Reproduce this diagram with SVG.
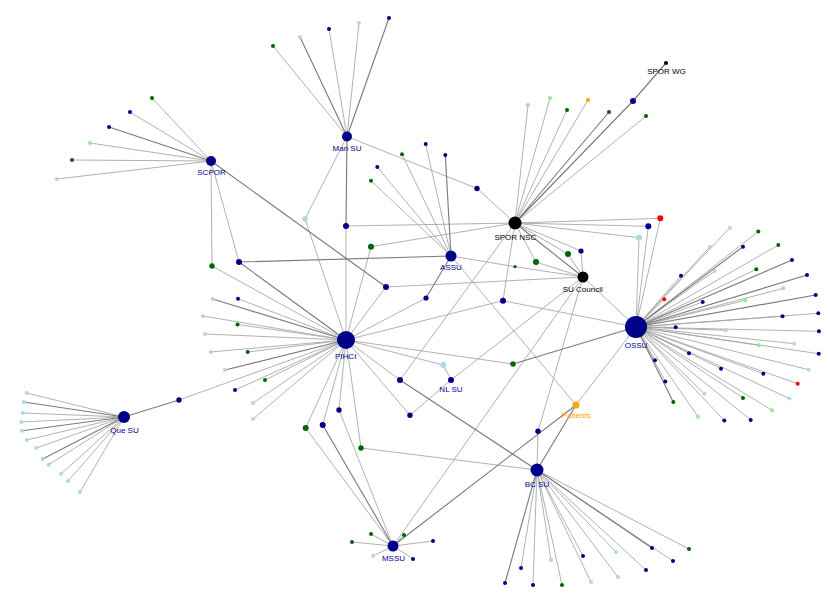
<svg xmlns="http://www.w3.org/2000/svg" width="828" height="594" viewBox="0 0 828 594">
<style>
.e{stroke:#a3a3a3;stroke-width:0.85;fill:none}
.t{stroke:#7c7c7c;stroke-width:1.15;fill:none}
.nb{fill:#00008b}.g{fill:#006400}.lb{fill:#add8e6}.lg{fill:#90ee90}.or{fill:#ffa500}.rd{fill:#ff0000}.bk{fill:#000}
text{font-family:"Liberation Sans",Arial,sans-serif;font-size:8px;text-anchor:middle}
.tn{fill:#00008b}.tk{fill:#000}.to{fill:#ffa500}
</style>
<rect width="828" height="594" fill="#fff"/>
<g id="connectors">
<g class="e">
<path d="M347 136.5L273 46M347 136.5L329 29M347 136.5L359 23M347 136.5L305 219L346 340M346 226L346 340M346 226L515 223M347 136.5L477 188.5L515 223"/>
<path d="M211 161L152 98M211 161L130 112M211 161L90 143M211 161L72 160M211 161L57 179M211 161L212 266L346 340M211 161L239 262M386 287L346 340M386 287L583 277"/>
<path d="M451 256L425.7 144M451 256L402 154.3M451 256L377.3 167M451 256L371 180.7M426 298L346 340M451 256L515 266.7L583 277M451 256L576 405"/>
<path d="M515 223L528 105M515 223L550 98M515 223L567 110M515 223L588 100M515 223L646 116M515 223L371 246.7L346 340M515 223L660.3 218.3L636 327M515 223L648.3 226.3L636 327M515 223L639 237.7L636 327M515 223L568 254L583 277M515 223L581 251L583 277M515 223L536 262L583 277M515 223L503 300.7L346 340M503 300.7L636 327M515 223L400 380L346 340"/>
<path d="M583 277L636 327M583 277L451 380M583 277L393 546M583 277L538 431.3L537 470"/>
<path d="M346 340L238 298.7M346 340L202.7 316M346 340L237.5 324.5M346 340L205 334M346 340L210.7 352M346 340L247.7 352M346 340L265 380M346 340L235 390M346 340L253 403M346 340L253 419M346 340L179 400M346 340L443.3 365L451 380M346 340L513 364M346 340L410 415.3L451 380M346 340L305.7 428L393 546M346 340L322.7 425M346 340L339 410L393 546M346 340L361 448L537 470"/>
<path d="M576 405L636 327"/>
<path d="M124 417L26.7 393M124 417L22.7 413M124 417L21.3 422M124 417L26.7 440M124 417L36.3 448M124 417L48.7 464.7M124 417L61 474M124 417L68 481M124 417L80 492"/>
<path d="M393 546L371 534M393 546L352 542M393 546L373 556M393 546L404 535M393 546L433 541M393 546L413 559"/>
<path d="M537 470L521 568M537 470L533 585M537 470L551 560M537 470L562 585M537 470L583 556M537 470L591 582M537 470L616 552M537 470L618 577M537 470L646 570M537 470L673 561M537 470L689 549"/>
<path d="M636 327L730 227.7M636 327L710 246.7M636 327L758.3 231.5M636 327L778.3 245M636 327L681 275.7M636 327L714.5 271M636 327L756.3 269.3M636 327L664.3 299.3M636 327L783.3 288.3M636 327L745.3 300.3M636 327L702.7 302M636 327L782.5 316.3M636 327L818.3 313.3M636 327L675.7 327.3M636 327L725.7 330.3M636 327L819 331.3M636 327L758.7 345.3M636 327L794.3 343.7M636 327L818.7 353.7M636 327L689 353.3M636 327L808.7 369.7M636 327L721 368.7M636 327L763.3 373.7M636 327L797.7 383.7M636 327L655 360.3M636 327L665.3 381.5M636 327L789.3 398.5M636 327L743 398M636 327L704.3 393.7M636 327L772 410.3M636 327L698 416.7M636 327L724.3 420.5M636 327L750.7 420"/>
</g>
<g class="t">
<path d="M347 136.5L300 37M347 136.5L389 18M347 136.5L346 226"/>
<path d="M211 161L109 127M211 161L386 287M239 262L451 256M239 262L346 340"/>
<path d="M451 256L445.3 155M451 256L426 298"/>
<path d="M515 223L609 112M515 223L633 101L666 63M515 223L583 277"/>
<path d="M124 417L179 400M400 380L537 470M513 364L636 327M576 405L393 546M576 405L537 470M322.7 425L393 546"/>
<path d="M124 417L23.7 402M124 417L22 430.7M124 417L42.7 459"/>
<path d="M537 470L505 583M537 470L652 548"/>
<path d="M636 327L673.3 402M636 327L807 275M636 327L815.7 295M636 327L792 260M636 327L743 246.7"/>
<path d="M346 340L225 370M346 340L212.7 299"/>
</g>
</g>
<g id="nodes">
<g id="m1"><circle class="g" cx="273" cy="46" r="2"/></g>
<g id="m2"><circle class="lb" cx="300" cy="37" r="2"/></g>
<g id="m3"><circle class="nb" cx="329" cy="29" r="2"/></g>
<g id="m4"><circle class="lb" cx="359" cy="23" r="2"/></g>
<g id="m5"><circle class="nb" cx="389" cy="18" r="2"/></g>
<g id="i1"><circle class="lb" cx="305" cy="219" r="2.8"/></g>
<g id="i2"><circle class="nb" cx="346" cy="226" r="3"/></g>
<g id="i3"><circle class="nb" cx="477" cy="188.5" r="2.7"/></g>
<g id="s1"><circle class="g" cx="152" cy="98" r="2"/></g>
<g id="s2"><circle class="nb" cx="130" cy="112" r="2"/></g>
<g id="s3"><circle class="nb" cx="109" cy="127" r="2"/></g>
<g id="s4"><circle class="lg" cx="90" cy="143" r="2"/></g>
<g id="s5"><circle class="g" cx="72" cy="160" r="2"/></g>
<g id="s6"><circle class="lb" cx="57" cy="179" r="2"/></g>
<g id="i4"><circle class="g" cx="212" cy="266" r="2.7"/></g>
<g id="i5"><circle class="nb" cx="239" cy="262" r="3"/></g>
<g id="i6"><circle class="nb" cx="386" cy="287" r="3"/></g>
<g id="a1"><circle class="nb" cx="425.7" cy="144" r="2"/></g>
<g id="a2"><circle class="nb" cx="445.3" cy="155" r="2"/></g>
<g id="a3"><circle class="g" cx="402" cy="154.3" r="2"/></g>
<g id="a4"><circle class="nb" cx="377.3" cy="167" r="2"/></g>
<g id="a5"><circle class="g" cx="371" cy="180.7" r="2"/></g>
<g id="i7"><circle class="nb" cx="426" cy="298" r="2.6"/></g>
<g id="i8"><circle class="g" cx="515" cy="266.7" r="1.6"/></g>
<g id="p1"><circle class="lg" cx="528" cy="105" r="2"/></g>
<g id="p2"><circle class="lg" cx="550" cy="98" r="2"/></g>
<g id="p3"><circle class="g" cx="567" cy="110" r="2"/></g>
<g id="p4"><circle class="or" cx="588" cy="100" r="2"/></g>
<g id="p5"><circle class="g" cx="609" cy="112" r="2"/></g>
<g id="p6"><circle class="g" cx="646" cy="116" r="2"/></g>
<g id="i9"><circle class="nb" cx="633" cy="101" r="3"/></g>
<g id="i10"><circle class="g" cx="371" cy="246.7" r="3"/></g>
<g id="i11"><circle class="rd" cx="660.3" cy="218.3" r="3"/></g>
<g id="i12"><circle class="nb" cx="648.3" cy="226.3" r="3"/></g>
<g id="i13"><circle class="lb" cx="639" cy="237.7" r="3"/></g>
<g id="i14"><circle class="g" cx="568" cy="254" r="3"/></g>
<g id="i15"><circle class="nb" cx="581" cy="251" r="2.6"/></g>
<g id="i16"><circle class="g" cx="536" cy="262" r="3"/></g>
<g id="i17"><circle class="nb" cx="503" cy="300.7" r="3"/></g>
<g id="i18"><circle class="nb" cx="400" cy="380" r="3"/></g>
<g id="i19"><circle class="nb" cx="538" cy="431.3" r="2.7"/></g>
<g id="h1"><circle class="lb" cx="212.7" cy="299" r="2"/></g>
<g id="h2"><circle class="nb" cx="238" cy="298.7" r="2"/></g>
<g id="h3"><circle class="lb" cx="202.7" cy="316" r="2"/></g>
<g id="h4"><circle class="g" cx="237.5" cy="324.5" r="2"/></g>
<g id="h5"><circle class="lb" cx="205" cy="334" r="2"/></g>
<g id="h6"><circle class="lb" cx="210.7" cy="352" r="2"/></g>
<g id="h7"><circle class="g" cx="247.7" cy="352" r="2"/></g>
<g id="h8"><circle class="lb" cx="225" cy="370" r="2"/></g>
<g id="h9"><circle class="g" cx="265" cy="380" r="2"/></g>
<g id="h10"><circle class="nb" cx="235" cy="390" r="2"/></g>
<g id="h11"><circle class="lb" cx="253" cy="403" r="2"/></g>
<g id="h12"><circle class="lb" cx="253" cy="419" r="2"/></g>
<g id="i20"><circle class="nb" cx="179" cy="400" r="2.7"/></g>
<g id="i21"><circle class="lb" cx="443.3" cy="365" r="3"/></g>
<g id="i22"><circle class="g" cx="513" cy="364" r="2.7"/></g>
<g id="i23"><circle class="nb" cx="410" cy="415.3" r="2.7"/></g>
<g id="i24"><circle class="g" cx="305.7" cy="428" r="3"/></g>
<g id="i25"><circle class="nb" cx="322.7" cy="425" r="3"/></g>
<g id="i26"><circle class="nb" cx="339" cy="410" r="2.7"/></g>
<g id="i27"><circle class="g" cx="361" cy="448" r="2.7"/></g>
<g id="q1"><circle class="lb" cx="26.7" cy="393" r="2"/></g>
<g id="q2"><circle class="lb" cx="23.7" cy="402" r="2"/></g>
<g id="q3"><circle class="lb" cx="22.7" cy="413" r="2"/></g>
<g id="q4"><circle class="lb" cx="21.3" cy="422" r="2"/></g>
<g id="q5"><circle class="lb" cx="22" cy="430.7" r="2"/></g>
<g id="q6"><circle class="lb" cx="26.7" cy="440" r="2"/></g>
<g id="q7"><circle class="lb" cx="36.3" cy="448" r="2"/></g>
<g id="q8"><circle class="lb" cx="42.7" cy="459" r="2"/></g>
<g id="q9"><circle class="lb" cx="48.7" cy="464.7" r="2"/></g>
<g id="q10"><circle class="lb" cx="61" cy="474" r="2"/></g>
<g id="q11"><circle class="lb" cx="68" cy="481" r="2"/></g>
<g id="q12"><circle class="lb" cx="80" cy="492" r="2"/></g>
<g id="u1"><circle class="g" cx="371" cy="534" r="2"/></g>
<g id="u2"><circle class="g" cx="352" cy="542" r="2"/></g>
<g id="u3"><circle class="lb" cx="373" cy="556" r="2"/></g>
<g id="u4"><circle class="g" cx="404" cy="535" r="2"/></g>
<g id="u5"><circle class="nb" cx="433" cy="541" r="2"/></g>
<g id="u6"><circle class="nb" cx="413" cy="559" r="2"/></g>
<g id="b1"><circle class="nb" cx="505" cy="583" r="2"/></g>
<g id="b2"><circle class="nb" cx="521" cy="568" r="2"/></g>
<g id="b3"><circle class="nb" cx="533" cy="585" r="2"/></g>
<g id="b4"><circle class="lb" cx="551" cy="560" r="2"/></g>
<g id="b5"><circle class="g" cx="562" cy="585" r="2"/></g>
<g id="b6"><circle class="nb" cx="583" cy="556" r="2"/></g>
<g id="b7"><circle class="lb" cx="591" cy="582" r="2"/></g>
<g id="b8"><circle class="lb" cx="616" cy="552" r="2"/></g>
<g id="b9"><circle class="lb" cx="618" cy="577" r="2"/></g>
<g id="b10"><circle class="nb" cx="646" cy="570" r="2"/></g>
<g id="b11"><circle class="nb" cx="652" cy="548" r="2"/></g>
<g id="b12"><circle class="nb" cx="673" cy="561" r="2"/></g>
<g id="b13"><circle class="g" cx="689" cy="549" r="2"/></g>
<g id="o1"><circle class="lb" cx="730" cy="227.7" r="2"/></g>
<g id="o2"><circle class="lb" cx="710" cy="246.7" r="2"/></g>
<g id="o3"><circle class="g" cx="758.3" cy="231.5" r="2"/></g>
<g id="o4"><circle class="nb" cx="743" cy="246.7" r="2"/></g>
<g id="o5"><circle class="g" cx="778.3" cy="245" r="2"/></g>
<g id="o6"><circle class="nb" cx="681" cy="275.7" r="2"/></g>
<g id="o7"><circle class="lb" cx="714.5" cy="271" r="2"/></g>
<g id="o8"><circle class="g" cx="756.3" cy="269.3" r="2"/></g>
<g id="o9"><circle class="nb" cx="792" cy="260" r="2"/></g>
<g id="o10"><circle class="rd" cx="664.3" cy="299.3" r="2"/></g>
<g id="o11"><circle class="nb" cx="807" cy="275" r="2"/></g>
<g id="o12"><circle class="lg" cx="783.3" cy="288.3" r="2"/></g>
<g id="o13"><circle class="lg" cx="745.3" cy="300.3" r="2"/></g>
<g id="o14"><circle class="nb" cx="702.7" cy="302" r="2"/></g>
<g id="o15"><circle class="nb" cx="815.7" cy="295" r="2"/></g>
<g id="o16"><circle class="nb" cx="782.5" cy="316.3" r="2"/></g>
<g id="o17"><circle class="nb" cx="818.3" cy="313.3" r="2"/></g>
<g id="o18"><circle class="nb" cx="675.7" cy="327.3" r="2"/></g>
<g id="o19"><circle class="lb" cx="725.7" cy="330.3" r="2"/></g>
<g id="o20"><circle class="nb" cx="819" cy="331.3" r="2"/></g>
<g id="o21"><circle class="lg" cx="758.7" cy="345.3" r="2"/></g>
<g id="o22"><circle class="lb" cx="794.3" cy="343.7" r="2"/></g>
<g id="o23"><circle class="nb" cx="818.7" cy="353.7" r="2"/></g>
<g id="o24"><circle class="nb" cx="689" cy="353.3" r="2"/></g>
<g id="o25"><circle class="lb" cx="808.7" cy="369.7" r="2"/></g>
<g id="o26"><circle class="nb" cx="721" cy="368.7" r="2"/></g>
<g id="o27"><circle class="nb" cx="763.3" cy="373.7" r="2"/></g>
<g id="o28"><circle class="rd" cx="797.7" cy="383.7" r="2"/></g>
<g id="o29"><circle class="nb" cx="655" cy="360.3" r="2"/></g>
<g id="o30"><circle class="nb" cx="665.3" cy="381.5" r="2"/></g>
<g id="o31"><circle class="lb" cx="789.3" cy="398.5" r="2"/></g>
<g id="o32"><circle class="g" cx="743" cy="398" r="2"/></g>
<g id="o33"><circle class="lb" cx="704.3" cy="393.7" r="2"/></g>
<g id="o34"><circle class="lg" cx="772" cy="410.3" r="2"/></g>
<g id="o35"><circle class="g" cx="673.3" cy="402" r="2"/></g>
<g id="o36"><circle class="lg" cx="698" cy="416.7" r="2"/></g>
<g id="o37"><circle class="nb" cx="724.3" cy="420.5" r="2"/></g>
<g id="o38"><circle class="nb" cx="750.7" cy="420" r="2"/></g>
<g id="ManSU"><circle class="nb" cx="347" cy="136.5" r="5"/><text class="tn" x="347" y="150.5">Man SU</text></g>
<g id="SCPOR"><circle class="nb" cx="211" cy="161" r="5"/><text class="tn" x="211.5" y="175">SCPOR</text></g>
<g id="SPORWG"><circle class="bk" cx="666" cy="63" r="2"/><text class="tk" x="666.5" y="74">SPOR WG</text></g>
<g id="SPORNSC"><circle class="bk" cx="515" cy="223" r="6.5"/><text class="tk" x="515.3" y="240">SPOR NSC</text></g>
<g id="ASSU"><circle class="nb" cx="451" cy="256" r="5.5"/><text class="tn" x="451" y="270">ASSU</text></g>
<g id="SUCouncil"><circle class="bk" cx="583" cy="277" r="5.5"/><text class="tk" x="582.7" y="292">SU Council</text></g>
<g id="PIHCI"><circle class="nb" cx="346" cy="340" r="9"/><text class="tn" x="345.7" y="359">PIHCI</text></g>
<g id="OSSU"><circle class="nb" cx="636" cy="327" r="11"/><text class="tn" x="636" y="348">OSSU</text></g>
<g id="NLSU"><circle class="nb" cx="451" cy="380" r="3"/><text class="tn" x="451" y="392">NL SU</text></g>
<g id="Patients"><circle class="or" cx="576" cy="405" r="3.5"/><text class="to" x="576.3" y="418">Patients</text></g>
<g id="QueSU"><circle class="nb" cx="124" cy="417" r="6"/><text class="tn" x="124.5" y="433">Que SU</text></g>
<g id="BCSU"><circle class="nb" cx="537" cy="470" r="6.5"/><text class="tn" x="537" y="487">BC SU</text></g>
<g id="MSSU"><circle class="nb" cx="393" cy="546" r="5.5"/><text class="tn" x="393.5" y="561">MSSU</text></g>
</g>
</svg>
